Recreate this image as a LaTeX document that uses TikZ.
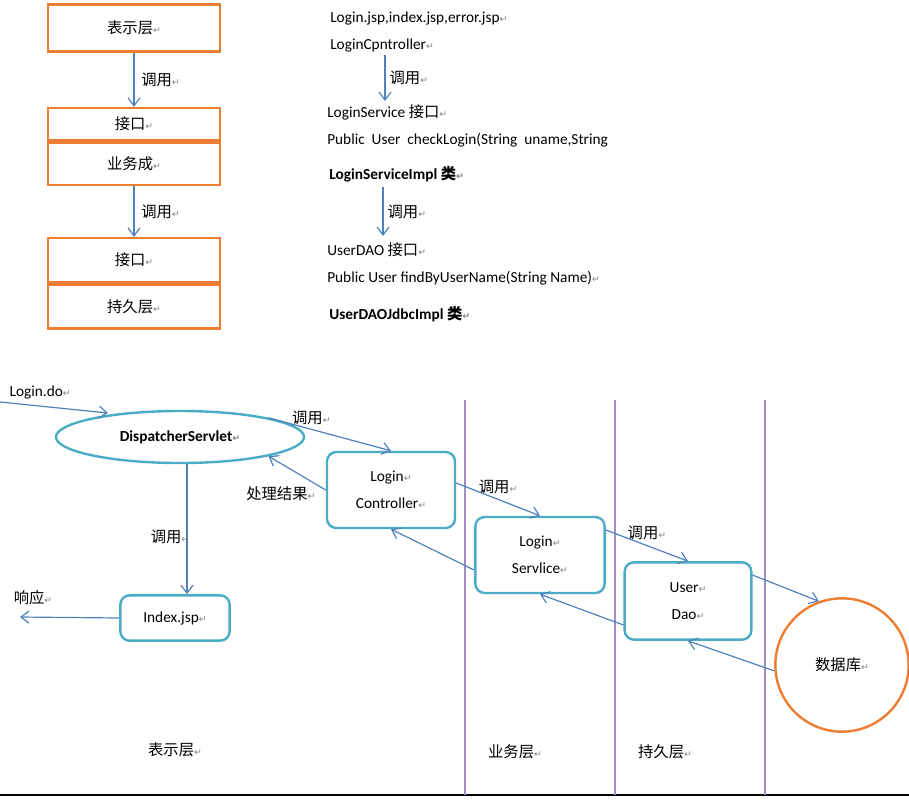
\documentclass[tikz,border=0pt]{standalone}
\usepackage{fontspec}
\setmainfont{Carlito}
\newfontfamily\cjkf{Noto Sans CJK SC}
\newfontfamily\djv{DejaVu Sans}
\newcommand\zh[1]{{\cjkf #1}}
\newcommand\rt{{\color{gray}\djv\fontsize{7}{8}\selectfont ↵}}
\usetikzlibrary{arrows.meta,shapes.geometric}
\definecolor{org}{RGB}{237,125,49}
\definecolor{teal2}{RGB}{75,172,198}
\definecolor{arr}{RGB}{79,129,189}
\definecolor{purp}{RGB}{160,140,200}
\tikzset{
 obox/.style={draw=org,line width=1.8pt,minimum width=129pt,inner sep=0pt,font=\fontsize{11.5}{13}\selectfont},
 tbox/.style={draw=teal2,line width=1.8pt,rounded corners=7pt,inner sep=0pt,align=center,font=\fontsize{11.5}{20}\selectfont},
 arw/.style={draw=arr,line width=0.9pt,-{Straight Barb[length=6pt,width=9pt]}},
 txt/.style={anchor=west,inner sep=0pt,font=\fontsize{11.5}{13}\selectfont},
 lab/.style={inner sep=1pt,font=\fontsize{11.5}{13}\selectfont},
 vline/.style={draw=purp,line width=1pt}
}
\begin{document}
\begin{tikzpicture}[x=0.75pt,y=-0.75pt]
\useasboundingbox (0,0) rectangle (909,800);
% top-left boxes
\node[obox,minimum height=35pt] (b1) at (134,28) {\zh{表示层}\rt};
\node[obox,minimum height=24pt] (b2) at (134,124) {\zh{接口}\rt};
\node[obox,minimum height=32pt,anchor=north] (b3) at (b2.south) {\zh{业务成}\rt};
\node[obox,minimum height=33pt] (b4) at (134,260) {\zh{接口}\rt};
\node[obox,minimum height=33pt,anchor=north] (b5) at (b4.south) {\zh{持久层}\rt};
\draw[arw] (b1.south) -- node[lab,right=4pt]{\zh{调用}\rt} (b2.north);
\draw[arw] (b3.south) -- node[lab,right=4pt]{\zh{调用}\rt} (b4.north);
% right text
\node[txt] (t1) at (330,18) {Login.jsp,index.jsp,error.jsp\rt};
\node[txt] (t2) at (330,45) {LoginCpntroller\rt};
\node[txt] (t3) at (327,112) {LoginService \zh{接口}\rt};
\node[txt] (t4) at (327,140) {Public\ \ User\ \ checkLogin(String\ \ uname,String};
\node[txt,font=\fontsize{11.5}{13}\selectfont\bfseries] (t5) at (329,174) {LoginServiceImpl \zh{\bfseries 类}\rt};
\node[txt] (t6) at (327,250) {UserDAO \zh{接口}\rt};
\node[txt] (t7) at (327,278) {Public User findByUserName(String Name)\rt};
\node[txt,font=\fontsize{11.5}{13}\selectfont\bfseries] (t8) at (329,314) {UserDAOJdbcImpl \zh{\bfseries 类}\rt};
\coordinate (c1) at (385,55); \coordinate (c2) at (385,101);
\draw[arw] (c1) -- node[lab,right=2pt]{\zh{调用}\rt} (c2);
\coordinate (c3) at (383,187); \coordinate (c4) at (383,236);
\draw[arw] (c3) -- node[lab,right=2pt]{\zh{调用}\rt} (c4);
% bottom structure
\coordinate (hl) at (0,795); \coordinate (hr) at (909,795);
\draw[line width=1pt] (hl) -- (hr);
\foreach \x/\n in {465/v1,615/v2,765/v3}{
 \coordinate (\n a) at (\x,400); \coordinate (\n b) at (\x,795);
 \draw[vline] (\n a) -- (\n b);}
\node[draw=teal2,line width=1.8pt,ellipse,minimum width=186pt,minimum height=39pt,inner sep=0pt,font=\fontsize{11.5}{13}\selectfont\bfseries] (ds) at (180,437) {DispatcherServlet\rt};
\node[tbox,minimum width=96pt,minimum height=57pt] (lc) at (391,490) {Login\rt\\Controller\rt};
\node[tbox,minimum width=97pt,minimum height=57pt] (ls) at (540,555) {Login\rt\\Servlice\rt};
\node[tbox,minimum width=95pt,minimum height=58pt] (ud) at (688,601) {User\rt\\Dao\rt};
\node[tbox,minimum width=82pt,minimum height=34pt] (ij) at (175,618) {Index.jsp\rt};
\node[draw=org,line width=1.8pt,circle,minimum size=100pt,inner sep=0pt,font=\fontsize{11.5}{13}\selectfont] (db) at (842,665) {\zh{数据库}\rt};
\node[lab,anchor=west] (ld) at (8,392) {Login.do\rt};
\coordinate (in0) at (0,402);
\coordinate (in1) at (108,413);
\draw[arw] (in0) -- (in1);
\draw[arw] (ds.north east) -- node[lab,above=2pt,pos=0.35]{\zh{调用}\rt} (lc.north);
\draw[arw] (lc.west) -- node[lab,left=2pt,pos=0.1,yshift=-5pt]{\zh{处理结果}\rt} (ds.south east);
\draw[arw] (ds.south) ++(7,0) coordinate (dss) -- (dss |- ij.north);
\node[lab] at (170,537) {\zh{调用}\rt};
\coordinate (out0) at (20,617);
\draw[arw] (ij.west) -- (out0);
\node[lab] at (33,598) {\zh{响应}\rt};
\draw[arw] (lc.east) ++(0,-7) coordinate (lce) -- node[lab,above=3pt]{\zh{调用}\rt} (ls.north);
\draw[arw] (ls.west) ++(0,15) coordinate (lsw) -- (lc.south);
\draw[arw] (ls.east) ++(0,-25) coordinate (lse) -- node[lab,above=3pt]{\zh{调用}\rt} (ud.north);
\draw[arw] (ud.west) ++(0,24) coordinate (udw) -- (ls.south);
\draw[arw] (ud.east) ++(0,-26) coordinate (ude) -- (db.110);
\draw[arw] (db.185) -- (ud.south);
\node[lab] at (175,750) {\zh{表示层}\rt};
\node[lab] at (515,752) {\zh{业务层}\rt};
\node[lab] at (665,752) {\zh{持久层}\rt};
\end{tikzpicture}
\end{document}
